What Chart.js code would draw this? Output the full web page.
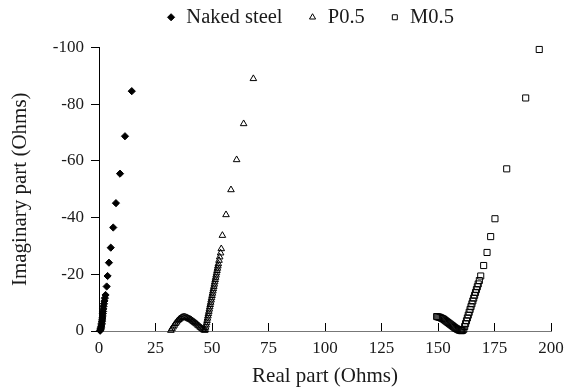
<!DOCTYPE html>
<html>
<head>
<meta charset="utf-8">
<script src="https://cdn.jsdelivr.net/npm/chart.js"></script>
<style>
  html, body { margin: 0; padding: 0; background: #fff; }
</style>
</head>
<body>
<canvas id="nyquistChart" width="565" height="391"></canvas>
<script>
// Nyquist data (real part / imaginary part, Ohms)
const nakedRe = [0.5, 0.6, 0.7, 0.8, 0.9, 1.0, 1.1, 1.2, 1.3, 1.4, 1.5, 1.6, 1.7, 1.8, 1.9, 2.0, 2.2, 2.4, 2.6,
  2.9, 3.4, 3.8, 4.4, 5.2, 6.3, 7.5, 9.3, 11.5, 14.5];
const nakedIm = [-0.1, -0.3, -0.6, -0.9, -1.3, -1.7, -2.2, -2.7, -3.3, -3.9, -4.6, -5.3, -6.1, -6.9, -7.8, -8.7, -9.6, -10.6, -11.6,
  -12.7, -15.7, -19.4, -24.1, -29.4, -36.5, -45.1, -55.5, -68.7, -84.6];

const p05Re = [31.8, 32.3, 32.8, 33.3, 33.8, 34.3, 34.8, 35.3, 35.8, 36.3, 36.8, 37.3, 37.8, 38.3, 38.8, 39.3,
  39.8, 40.3, 40.8, 41.3, 41.8, 42.3, 42.8, 43.3, 43.8, 44.3, 44.8, 45.3, 45.8, 46.3, 46.8,
  47.0, 47.2, 47.4, 47.6, 47.8, 48.0, 48.2, 48.4, 48.6, 48.8, 49.0, 49.2, 49.4, 49.6, 49.8,
  50.0, 50.2, 50.4, 50.6, 50.8, 51.0, 51.2, 51.4, 51.6, 51.8, 52.0, 52.2, 52.4, 52.6, 52.8,
  53.1, 53.4, 53.8, 54.1, 54.6, 56.2, 58.4, 60.9, 64.0, 68.3];
const p05Im = [-0.2, -0.8, -1.4, -2.0, -2.6, -3.1, -3.6, -4.0, -4.3, -4.6, -4.8, -4.9, -4.9, -4.8, -4.7, -4.5,
  -4.3, -4.1, -3.9, -3.6, -3.3, -3.0, -2.7, -2.4, -2.0, -1.7, -1.3, -1.0, -0.7, -0.4, -0.2,
  -0.5, -1.3, -2.1, -2.9, -3.7, -4.5, -5.3, -6.1, -6.9, -7.7, -8.5, -9.3, -10.1, -10.9, -11.7,
  -12.5, -13.3, -14.1, -14.9, -15.7, -16.5, -17.3, -18.1, -18.9, -19.7, -20.5, -21.3, -22.1, -22.9, -23.7,
  -24.9, -26.1, -27.5, -29.0, -33.7, -41.0, -49.8, -60.4, -73.1, -89.0];

const m05Re = [149.4, 149.9, 150.4, 150.9, 151.4, 151.9, 152.4, 152.9, 153.4, 153.9, 154.4, 154.9,
  155.4, 155.9, 156.4, 156.9, 157.4, 157.9, 158.4, 158.9, 159.4, 159.9, 160.4, 160.9,
  161.4, 161.8, 162.2, 162.6, 163.0, 163.4, 163.8, 164.2, 164.6, 165.0, 165.4, 165.8, 166.2,
  166.6, 167.0, 167.4, 167.8, 168.3, 168.9, 170.2, 171.7, 173.3, 175.2, 180.4, 188.8, 194.8];
const m05Im = [-5.1, -5.0, -4.9, -4.8, -4.6, -4.4, -4.2, -3.9, -3.6, -3.3, -3.0, -2.7,
  -2.4, -2.1, -1.8, -1.5, -1.2, -0.9, -0.7, -0.5, -0.3, -0.2, -0.1, -0.2,
  -0.6, -1.6, -2.6, -3.6, -4.6, -5.6, -6.6, -7.6, -8.6, -9.6, -10.6, -11.6, -12.6,
  -13.6, -14.6, -15.6, -16.6, -17.8, -19.4, -23.1, -27.7, -33.3, -39.6, -57.2, -82.2, -99.3];

const seriesNames = ["Naked steel", "P0.5", "M0.5"];
const xTitle = "Real part (Ohms)";
const yTitle = "Imaginary part (Ohms)";

function toPoints(re, im) {
  return re.map((x, i) => ({ x: x, y: im[i] }));
}

const serif = "'Liberation Serif', 'Times New Roman', serif";
Chart.defaults.font.family = serif;
Chart.defaults.color = "#1a1a1a";

// extra gap under the legend, and nudge it a bit left like the original
const legendTweak = {
  id: "legendTweak",
  beforeInit(chart) {
    const origFit = chart.legend.fit;
    chart.legend.fit = function () {
      origFit.call(this);
      this.height += 10;
    };
  },
  afterLayout(chart) {
    chart.legend.left -= 15;
    chart.legend.right -= 15;
  }
};

const ctx = document.getElementById("nyquistChart").getContext("2d");
new Chart(ctx, {
  type: "scatter",
  data: {
    datasets: [
      {
        label: seriesNames[0],
        data: toPoints(nakedRe, nakedIm),
        pointStyle: "rectRot",
        pointRadius: 3.6,
        backgroundColor: "#000",
        borderColor: "#000",
        borderWidth: 1,
        clip: false
      },
      {
        label: seriesNames[1],
        data: toPoints(p05Re, p05Im),
        pointStyle: "triangle",
        pointRadius: 3.8,
        backgroundColor: "rgba(0,0,0,0)",
        borderColor: "#000",
        borderWidth: 1,
        clip: false
      },
      {
        label: seriesNames[2],
        data: toPoints(m05Re, m05Im),
        pointStyle: "rect",
        pointRadius: 4.3,
        backgroundColor: "rgba(0,0,0,0)",
        borderColor: "#000",
        borderWidth: 1,
        clip: false
      }
    ]
  },
  options: {
    responsive: false,
    animation: false,
    layout: { padding: { left: 0, right: 14, top: -18, bottom: 0 } },
    plugins: {
      legend: {
        position: "top",
        fullSize: false,
        labels: {
          usePointStyle: true,
          boxWidth: 10,
          boxHeight: 5,
          padding: 25,
          color: "#1a1a1a",
          font: { size: 20.5 }
        }
      },
      tooltip: { enabled: false }
    },
    scales: {
      x: {
        type: "linear",
        min: 0,
        max: 200,
        ticks: { stepSize: 25, padding: 15, font: { size: 17 }, color: "#1a1a1a" },
        grid: { drawOnChartArea: false, tickLength: -8, color: "#000" },
        border: { color: "#777", width: 1 },
        title: { display: true, text: xTitle, font: { size: 21 }, color: "#1a1a1a", padding: { top: 0, bottom: 2 } },
        afterFit(scale) {
          scale.height = 60;
          scale.paddingRight = 0;
        }
      },
      y: {
        type: "linear",
        min: -100,
        max: 0,
        reverse: true,
        ticks: { stepSize: 20, padding: 7, font: { size: 17 }, color: "#1a1a1a" },
        grid: { drawOnChartArea: false, tickLength: 8, color: "#000" },
        border: { color: "#000", width: 1 },
        title: { display: true, text: yTitle, font: { size: 21 }, color: "#1a1a1a", padding: { top: 8, bottom: 0 } },
        afterFit(scale) { scale.width = 99; }
      }
    }
  },
  plugins: [legendTweak]
});
</script>
</body>
</html>
